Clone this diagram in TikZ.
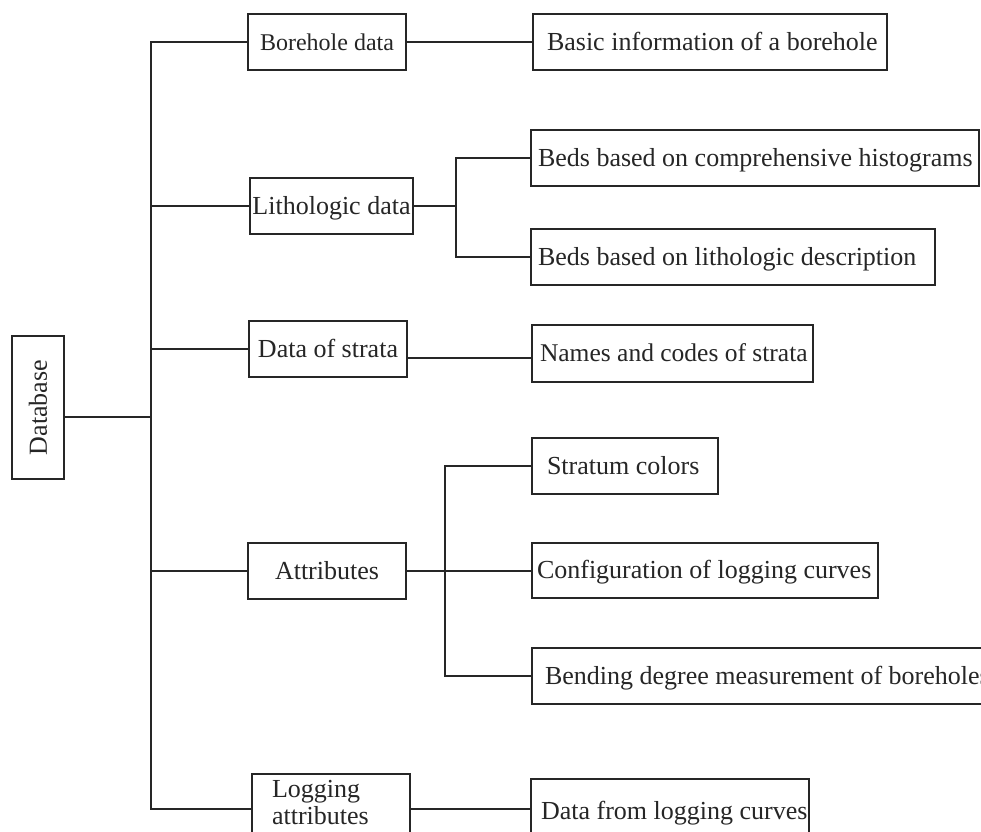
\documentclass[tikz,border=0pt]{standalone}
\usepackage{fontspec}
\setmainfont{Liberation Serif}
\usepackage{graphicx}
\usetikzlibrary{calc}
\newcommand\fbig{\fontsize{26pt}{27pt}\selectfont}
\newcommand\fmid{\fontsize{24pt}{26pt}\selectfont}
\newcommand\fcond{\fontsize{25.5pt}{27pt}\selectfont}
\newcommand\lt[1]{\spaceskip=0pt\xspaceskip=0pt\relax\mbox{#1}}
\tikzset{
  frame/.style={draw=black!85, line width=1.5pt, rectangle, outer sep=0pt, inner sep=0pt, text=black!85, font=\fbig},
  lvone/.style={frame, anchor=north west, minimum width=158pt, minimum height=56pt, inner xsep=1pt, text height=19.5pt, text depth=2.6pt},
  leaf/.style={frame, anchor=north west, minimum height=56pt, align=left, text height=19.5pt, text depth=2.6pt},
  link/.style={draw=black!85, line width=1.8pt, line cap=rect},
}
\begin{document}
\begin{tikzpicture}[x=1pt,y=-1pt]
\fill[white] (0,0) rectangle (981,831);
\useasboundingbox (0,0) rectangle (981,831);
\clip (0,0) rectangle (981,831);

% root
\node[frame, minimum width=52pt, minimum height=143pt] (db) at (38,407.5) {\rotatebox{90}{Database}};

% level one
\node[lvone, font=\fmid] (b1) at (248,14) {Borehole data};
\node[lvone, minimum width=163pt] (b2) at (250,178) {Lithologic data};
\node[lvone] (b3) at (249,321) {Data of strata};
\node[lvone] (b4) at (248,543) {Attributes};
\node[frame, anchor=north west, inner xsep=20pt, inner ysep=6pt, text width=118pt, align=left] (b5) at (252,774) {Logging\\attributes\rule[-14pt]{0pt}{14pt}};

% leaves
\node[leaf, inner xsep=14pt, text width=326pt] (c1) at (533,14) {\lt{Basic information of a borehole}};
\node[leaf, inner xsep=7pt, text width=434pt] (c2) at (531,130) {\lt{Beds based on comprehensive histograms}};
\node[leaf, inner xsep=7pt, text width=390pt] (c3) at (531,229) {\lt{Beds based on lithologic description}};
\node[leaf, font=\fcond, minimum height=57pt, inner xsep=8pt, text width=265pt] (c4) at (532,325) {\lt{Names and codes of strata}};
\node[leaf, inner xsep=15pt, text width=156pt] (c5) at (532,438) {\lt{Stratum colors}};
\node[leaf, minimum height=55pt, inner xsep=5pt, text width=336pt] (c6) at (532,543) {\lt{Configuration of logging curves}};
\node[leaf, inner xsep=13pt, text width=474pt] (c7) at (532,648) {\lt{Bending degree measurement of boreholes}};
\node[leaf, minimum height=64pt, inner xsep=10pt, text width=258pt] (c8) at (531,779) {\lt{Data from logging curves}};

% connectors
\coordinate (trunk) at (151,0);
\coordinate (fka) at (456,0);
\coordinate (fkb) at (445,0);

\draw[link] (b1.west -| trunk) -- (b5.west -| trunk);
\draw[link] ($(db.east)+(0,9.5)$) -- ($(db.east -| trunk)+(0,9.5)$);
\foreach \n in {b1,b2,b3,b4,b5} \draw[link] (\n.west -| trunk) -- (\n.west);

\draw[link] (b1.east) -- (c1.west);

\draw[link] (b2.east) -- (b2.east -| fka);
\draw[link] (c2.west -| fka) -- (c3.west -| fka);
\draw[link] (c2.west -| fka) -- (c2.west);
\draw[link] (c3.west -| fka) -- (c3.west);

\draw[link] ($(c4.west -| b3.east)+(0,4.5)$) -- ($(c4.west)+(0,4.5)$);

\draw[link] (b4.east) -- (b4.east -| c6.west);
\draw[link] (c5.west -| fkb) -- (c7.west -| fkb);
\draw[link] (c5.west -| fkb) -- (c5.west);
\draw[link] (c7.west -| fkb) -- (c7.west);

\draw[link] (b5.east) -- (b5.east -| c8.west);
\end{tikzpicture}
\end{document}
